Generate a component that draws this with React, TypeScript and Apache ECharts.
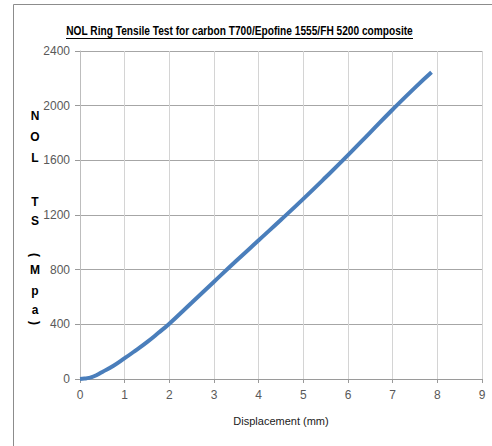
import React, { useEffect, useRef } from "react";
import * as echarts from "echarts";

const displacement = [0, 0.1, 0.2, 0.3, 0.5, 0.75, 1, 1.25, 1.5, 1.75, 2, 2.5, 3, 3.5, 4, 4.5, 5, 5.5, 6, 6.5, 7, 7.5, 7.87];
const stress = [0, 3, 8, 18, 52, 97, 152, 210, 270, 336, 405, 558, 712, 865, 1015, 1165, 1318, 1476, 1638, 1805, 1972, 2132, 2244];
const xTicks = [0, 1, 2, 3, 4, 5, 6, 7, 8, 9];
const yTicks = [0, 400, 800, 1200, 1600, 2000, 2400];
const titleText = "NOL Ring Tensile Test for carbon T700/Epofine 1555/FH 5200 composite";
const xName = "Displacement (mm)";
const yNameRows = [
  { ch: "N", y: 116 },
  { ch: "O", y: 137 },
  { ch: "L", y: 158 },
  { ch: "T", y: 202 },
  { ch: "S", y: 221 },
  { ch: "(", y: 255, rot: true },
  { ch: "M", y: 270 },
  { ch: "p", y: 291 },
  { ch: "a", y: 310 },
  { ch: ")", y: 323, rot: true },
];

const FONT = "'Liberation Sans', Arial, sans-serif";

function measure(text: string, font: string): number {
  const c = document.createElement("canvas");
  const ctx = c.getContext("2d");
  if (!ctx) return 0;
  ctx.font = font;
  return ctx.measureText(text).width;
}

export default function App() {
  const ref = useRef<HTMLDivElement>(null);
  useEffect(() => {
    if (!ref.current) return;
    const chart = echarts.init(ref.current, undefined, { renderer: "svg" });
    const data = displacement.map((x, i) => [x, stress[i]]);
    const titleFont = `bold 12px ${FONT}`;
    const tw = measure(titleText, titleFont) || 420;
    const titleScale = 347 / tw;
    chart.setOption({
      animation: false,
      backgroundColor: "#ffffff",
      grid: { left: 80, right: 10, top: 51, bottom: 67, containLabel: false },
      xAxis: {
        type: "value",
        min: xTicks[0],
        max: xTicks[xTicks.length - 1],
        interval: 1,
        axisLine: { show: true, lineStyle: { color: "#9a9a9a", width: 1 } },
        axisTick: { show: true, length: 4, lineStyle: { color: "#9a9a9a" } },
        axisLabel: { color: "#595959", fontSize: 12, fontFamily: FONT, margin: 10, formatter: (v: number) => String(v) },
        splitLine: { show: true, lineStyle: { color: "#d4d4d4", width: 1 } },
        name: xName,
        nameLocation: "middle",
        nameGap: 36,
        nameTextStyle: { color: "#1a1a1a", fontSize: 11, fontFamily: FONT },
      },
      yAxis: {
        type: "value",
        min: yTicks[0],
        max: yTicks[yTicks.length - 1],
        interval: 400,
        axisLine: { show: true, lineStyle: { color: "#bdbdbd", width: 1 } },
        axisTick: { show: true, length: 5, lineStyle: { color: "#9a9a9a" } },
        axisLabel: { color: "#595959", fontSize: 12, fontFamily: FONT, margin: 10, formatter: (v: number) => String(v) },
        splitLine: { show: true, lineStyle: { color: "#a6a6a6", width: 1 } },
      },
      series: [
        {
          type: "line",
          data,
          smooth: 0.5,
          showSymbol: false,
          lineStyle: { color: "#4A7EBB", width: 4 },
          itemStyle: { color: "#4A7EBB" },
        },
      ],
      graphic: [
        {
          type: "rect",
          silent: true,
          shape: { x: 13.5, y: 4.5, width: 600, height: 600 },
          style: { fill: "none", stroke: "#8c8c8c", lineWidth: 1 },
          z: -1,
        },
        {
          type: "text",
          x: 239.5,
          y: 31,
          scaleX: titleScale,
          style: {
            text: titleText,
            fill: "#000000",
            font: titleFont,
            textAlign: "center",
            textVerticalAlign: "middle",
          },
        },
        {
          type: "line",
          shape: { x1: 66, y1: 38.5, x2: 413, y2: 38.5 },
          style: { stroke: "#000000", lineWidth: 1 },
        },
        ...yNameRows.map((r) => ({
          type: "text",
          x: 35,
          y: r.y,
          rotation: r.rot ? -Math.PI / 2 : 0,
          style: {
            text: r.ch,
            fill: "#000000",
            font: `bold 12px ${FONT}`,
            textAlign: "center",
            textVerticalAlign: "middle",
          },
        })),
      ],
    });
    return () => chart.dispose();
  }, []);
  return <div ref={ref} style={{ width: 492, height: 446, position: "absolute", left: 0, top: 0 }} />;
}
